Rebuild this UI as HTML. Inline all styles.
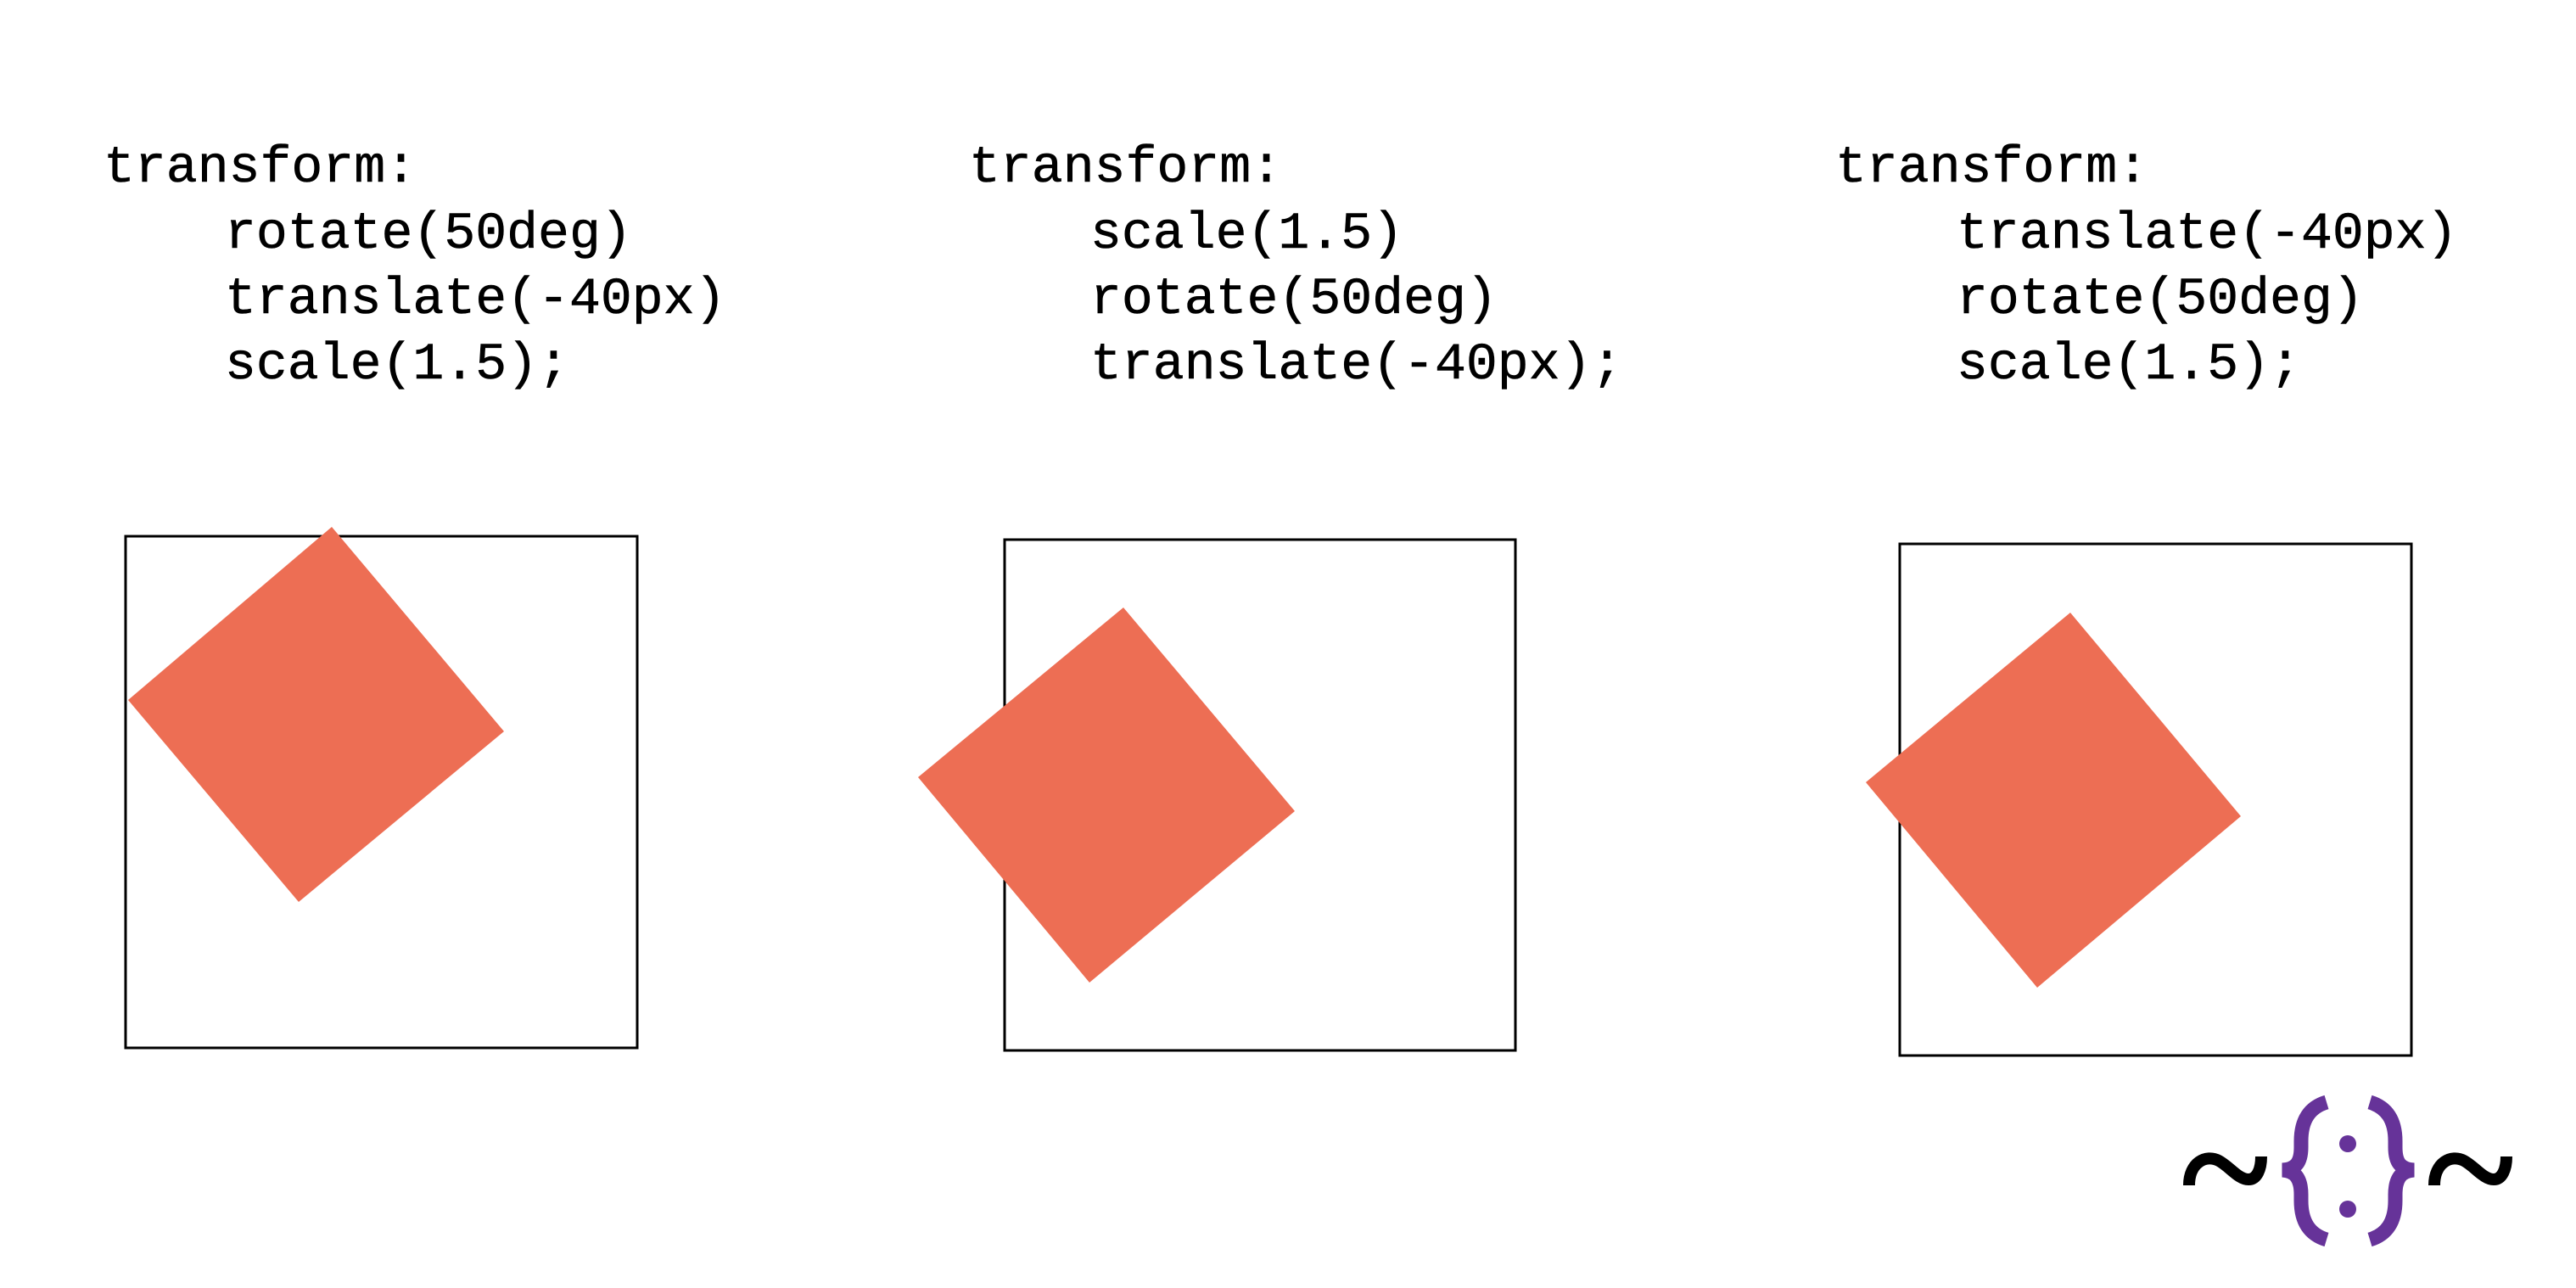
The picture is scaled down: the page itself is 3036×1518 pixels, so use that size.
<!DOCTYPE html>
<html><head><meta charset="utf-8"><style>
html,body{margin:0;padding:0;background:#fff;}
svg{display:block;}
text{font-family:"Liberation Mono","DejaVu Sans Mono",monospace;font-size:61.5px;fill:#000;stroke:#000;stroke-width:0.6px;}
</style></head><body>
<svg width="3036" height="1518" viewBox="0 0 3036 1518" xmlns="http://www.w3.org/2000/svg">
<rect width="3036" height="1518" fill="#fff"/>
<g>
<text x="122" y="214">transform:</text>
<text x="265" y="292">rotate(50deg)</text>
<text x="265" y="369">translate(-40px)</text>
<text x="265" y="446">scale(1.5);</text>
</g>
<g>
<text x="1142" y="214">transform:</text>
<text x="1285" y="292">scale(1.5)</text>
<text x="1285" y="369">rotate(50deg)</text>
<text x="1285" y="446">translate(-40px);</text>
</g>
<g>
<text x="2163" y="214">transform:</text>
<text x="2306" y="292">translate(-40px)</text>
<text x="2306" y="369">rotate(50deg)</text>
<text x="2306" y="446">scale(1.5);</text>
</g>
<g fill="none" stroke="#000" stroke-width="3">
<rect x="148" y="632" width="603" height="603"/>
<rect x="1184" y="636" width="602" height="602"/>
<rect x="2239" y="641" width="603" height="603"/>
</g>
<g fill="#ED6E54">
<polygon points="391,621 594,862 352,1063 151,825"/>
<polygon points="1324,716 1526,956 1284,1158 1082,916"/>
<polygon points="2440,722 2641,962 2401,1164 2199,922"/>
</g>
<g fill="none" stroke="#000" stroke-width="14">
<path d="M2580,1397 C2580,1370 2600,1360 2615,1368 C2628,1375 2638,1390 2650,1390 C2660,1390 2665,1378 2665,1363"/>
<path d="M2869,1397 C2869,1370 2889,1360 2904,1368 C2917,1375 2927,1390 2939,1390 C2949,1390 2954,1378 2954,1363"/>
</g>
<g fill="none" stroke="#663399" stroke-width="17">
<path d="M2742,1299 C2722,1305 2712,1320 2712,1345 L2712,1352 C2712,1370 2706,1378 2690,1379 C2706,1380 2712,1390 2712,1408 L2712,1415 C2712,1440 2722,1455 2742,1461"/>
<path d="M2793,1299 C2813,1305 2823,1320 2823,1345 L2823,1352 C2823,1370 2829,1378 2845,1379 C2829,1380 2823,1390 2823,1408 L2823,1415 C2823,1440 2813,1455 2793,1461"/>
</g>
<g fill="#663399">
<circle cx="2767" cy="1348" r="10"/>
<circle cx="2767" cy="1425" r="10"/>
</g>
</svg>
</body></html>
